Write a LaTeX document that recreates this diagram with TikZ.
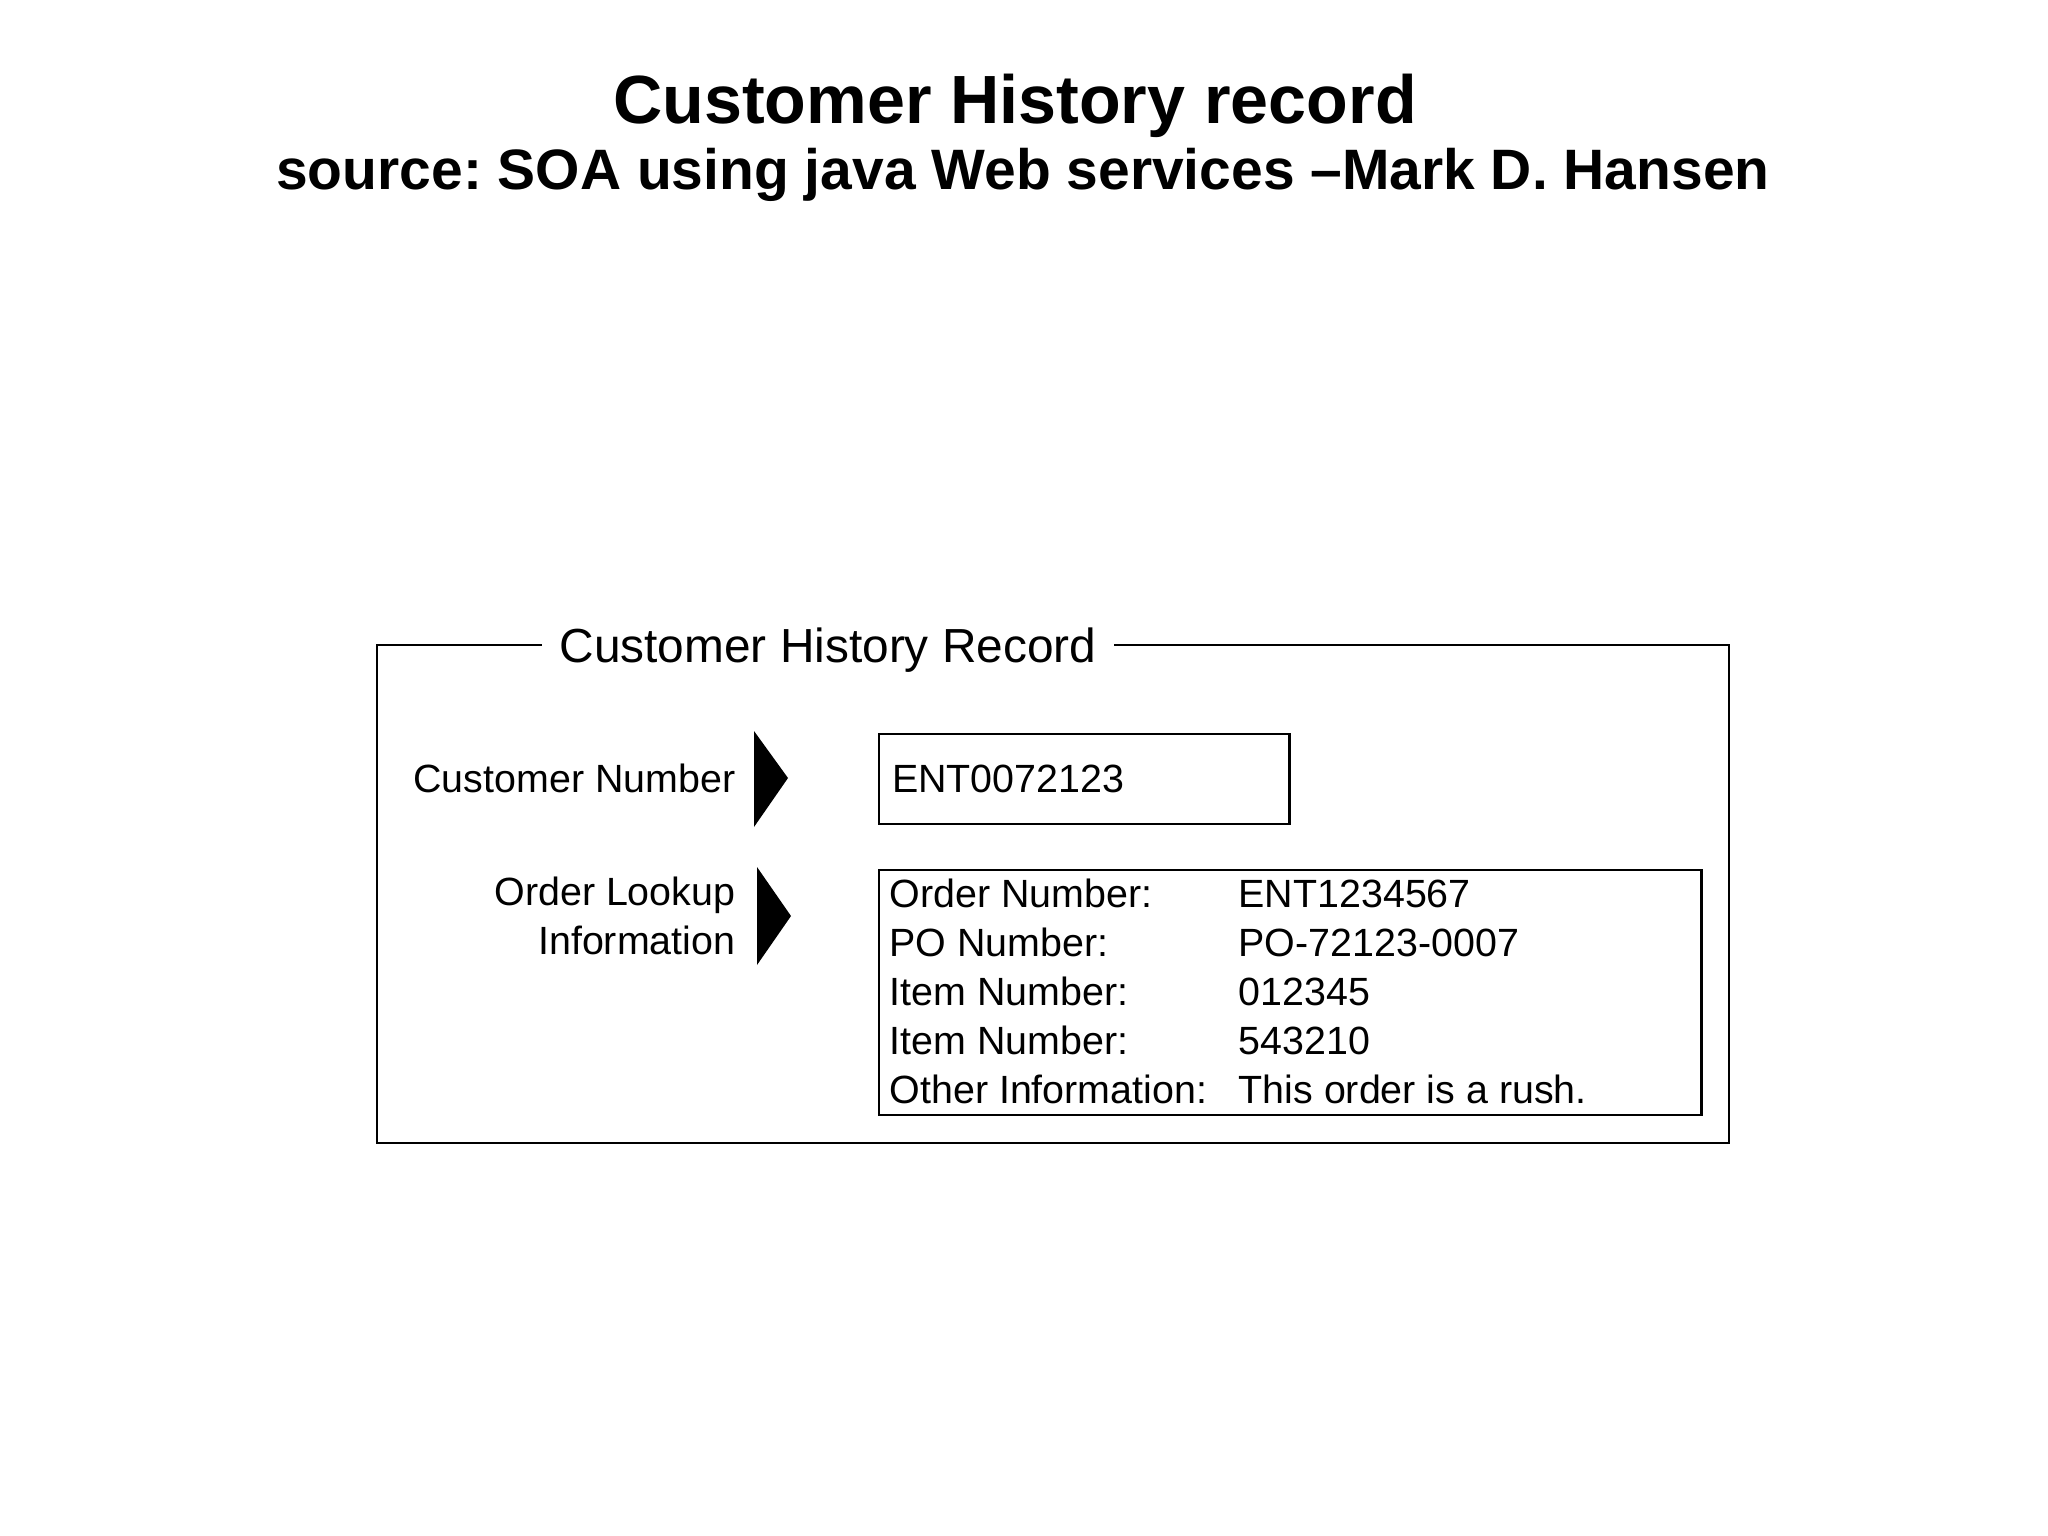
\documentclass[tikz,border=0pt]{standalone}
\usepackage{fontspec}
\setmainfont{Liberation Sans}
\frenchspacing
\usetikzlibrary{calc}
\tikzset{
  fig/.style={font=\fontsize{11.2}{13.9}\selectfont, inner sep=0pt},
  valbox/.style={draw, line width=0.65pt}
}

\begin{document}
\begin{tikzpicture}[x=0.01cm,y=-0.01cm]
  \useasboundingbox (0,0) rectangle (2048,1536);
  \node[anchor=base,font=\fontsize{19.4}{23}\selectfont\bfseries] (t1) at (1015,123) {Customer History record};
  \node[anchor=base,font=\fontsize{16.2}{20}\selectfont\bfseries] (t2) at (1023,189) {source: SOA using java Web services –Mark D. Hansen};

  \draw[line width=0.6pt] (377,645) rectangle (1729,1143);
  \node[fill=white,inner xsep=0.18cm,inner ysep=0pt,anchor=base,font=\fontsize{13.6}{16}\selectfont] (rec) at (828,662) {Customer History Record};

  \node[fig,anchor=base east] (cnum) at (736,792) {Customer Number};
  \fill (754,731) -- (788,778) -- (754,827) -- cycle;
  \node[fig,valbox,anchor=west,minimum height=0.9cm,text width=3.84cm,inner xsep=0.13cm] (cval) at (878,779) {ENT0072123};

  \node[fig,anchor=north east,align=right] (olook) at (736,876) {Order Lookup\\Information};
  \fill (757,867) -- (791,916) -- (757,965) -- cycle;
  \node[valbox,anchor=north west,minimum width=8.22cm,minimum height=2.45cm,inner sep=0pt] (obox) at (878,869) {};
  \foreach \lab/\val [count=\i from 0] in {Order Number:/ENT1234567,PO Number:/PO-72123-0007,Item Number:/012345,Item Number:/543210,Other Information:/This order is a rush.} {
    \node[fig,anchor=base west] (lab\i) at (889,907+49*\i) {\lab};
    \node[fig,anchor=base west] (val\i) at (1238,907+49*\i) {\val};
  }
\end{tikzpicture}
\end{document}
